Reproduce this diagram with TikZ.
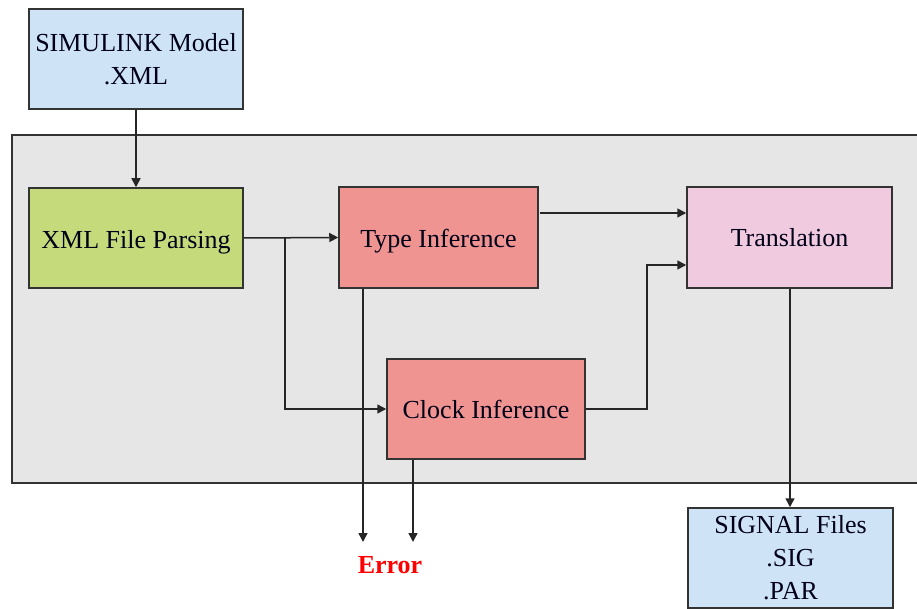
\documentclass[tikz,border=0pt]{standalone}
\usepackage{fontspec}
\setmainfont{Liberation Serif}
\usetikzlibrary{arrows.meta,calc}
\definecolor{fileblue}{HTML}{CFE3F7}
\definecolor{parsegreen}{HTML}{C4DA7B}
\definecolor{infred}{HTML}{F09492}
\definecolor{transpink}{HTML}{F0CADF}
\definecolor{panelgray}{HTML}{E6E6E6}
\definecolor{edgegray}{HTML}{333333}
\newcommand{\lowered}[1]{\raisebox{-4pt}[\height][\depth]{#1}}
\tikzset{
  stagebox/.style={draw=edgegray, line width=1.5pt, inner sep=0pt, align=center,
    font=\fontsize{26pt}{33pt}\selectfont, text=black!90!blue},
  arr/.style={draw=black!85, line width=1.5pt,
    -{Triangle[length=9pt,width=9pt]}},
}
\begin{document}
\begin{tikzpicture}[x=1pt,y=-1pt]
\useasboundingbox (0,0) rectangle (917,609);
% grey processing panel
\draw[draw=edgegray, line width=1.5pt, fill=panelgray] (12,135) rectangle (930,483);

% stages
\node[stagebox, fill=fileblue, minimum width=214pt, minimum height=100pt] (sim) at (136,59)
  {SIMULINK Model\\.XML};
\node[stagebox, fill=parsegreen, minimum width=214pt, minimum height=100pt] (xml) at (136,238)
  {\lowered{XML File Parsing}};
\node[stagebox, fill=infred, minimum width=199pt, minimum height=101pt] (ti) at (438.5,237.5)
  {\lowered{Type Inference}};
\node[stagebox, fill=infred, minimum width=198pt, minimum height=100pt] (ci) at (486,409)
  {Clock Inference};
\node[stagebox, fill=transpink, minimum width=205pt, minimum height=101pt] (tr) at (789.5,237.5)
  {Translation};
\node[stagebox, fill=fileblue, minimum width=205pt, minimum height=100pt] (sig) at (790.5,558)
  {SIGNAL Files\\.SIG\\.PAR};

\node[text=red, font=\fontsize{26pt}{30pt}\selectfont\bfseries] (err) at (390,565) {Error};

% helper points
\coordinate (br) at (285,238);
\coordinate (e1) at (363,542);
\coordinate (e2) at (413,542);
\coordinate (jn) at (647,265);
\coordinate (tt) at (540,213);
\coordinate (ts) at (790,288);

% connectors
\draw[arr] (sim.south) -- (xml.north);
\draw[arr] (xml.east) -- (ti.west);
\draw[arr] (br) |- (ci.west);
\draw[arr] (ti.south -| e1) -- (e1);
\draw[arr] (ci.south -| e2) -- (e2);
\draw[arr] (tt) -- (tt -| tr.west);
\draw[arr] (ci.east) -| (jn) -- (jn -| tr.west);
\draw[arr] (tr.south -| ts) -- (ts |- sig.north);
\end{tikzpicture}
\end{document}
